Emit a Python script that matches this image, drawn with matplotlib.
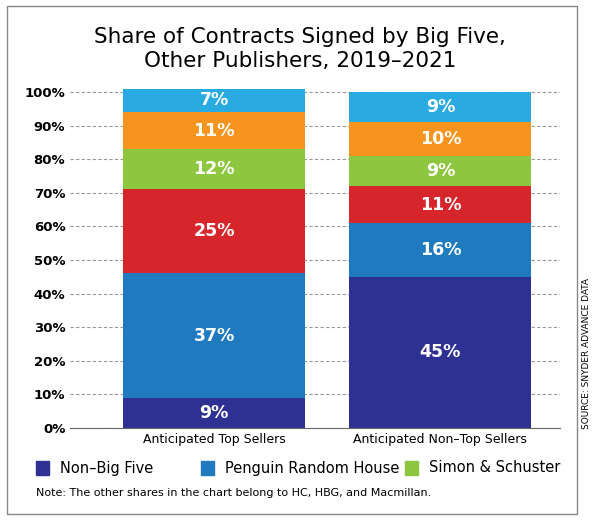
import matplotlib.pyplot as plt
from matplotlib.patches import Rectangle

categories = ['Anticipated Top Sellers', 'Anticipated Non–Top Sellers']
segments = ['Non–Big Five', 'Penguin Random House', 'Red', 'Simon & Schuster', 'Orange', 'Light']
values = {
    'Non–Big Five': [9, 45],
    'Penguin Random House': [37, 16],
    'Red': [25, 11],
    'Simon & Schuster': [12, 9],
    'Orange': [11, 10],
    'Light': [7, 9],
}
colors = ['#2e3192', '#1f7ac0', '#d7262b', '#8dc63f', '#f7941d', '#29abe2']
yticks = list(range(0, 101, 10))

fig = plt.figure(figsize=(6, 5.2), dpi=100)
fig.patches.append(Rectangle((0.012, 0.012), 0.95, 0.976, transform=fig.transFigure,
                             fill=False, edgecolor='#888888', linewidth=1))
ax = fig.add_axes([0.117, 0.177, 0.817, 341 / 520])

x = [0, 1]
bottom = [0, 0]
for seg, c in zip(segments, colors):
    vals = values[seg]
    ax.bar(x, vals, width=0.805, bottom=bottom, color=c, zorder=2)
    for xi, v, b in zip(x, vals, bottom):
        ax.text(xi, b + v / 2, f'{v}%', ha='center', va='center', color='white',
                fontsize=12.5, fontweight='bold', zorder=3)
    bottom = [b + v for b, v in zip(bottom, vals)]

ax.set_ylim(0, 101.5)
ax.set_xlim(-0.637, 1.531)
ax.set_yticks(yticks)
ax.set_yticklabels([f'{t}%' for t in yticks], fontsize=9.5, fontweight='bold')
ax.yaxis.grid(True, linestyle=(0, (3, 2)), color='#999999', linewidth=0.8, zorder=0)
ax.set_xticks(x)
ax.set_xticklabels(categories, fontsize=9)
ax.tick_params(length=0)
for s in ['top', 'right', 'left']:
    ax.spines[s].set_visible(False)
ax.spines['bottom'].set_color('#666666')

fig.text(0.5, 0.905, 'Share of Contracts Signed by Big Five,\nOther Publishers, 2019–2021',
         ha='center', va='center', fontsize=15.5, linespacing=1.25)

legend_items = [('Non–Big Five', colors[0], 0.06), ('Penguin Random House', colors[1], 0.335),
                ('Simon & Schuster', colors[3], 0.675)]
for label, c, xpos in legend_items:
    fig.patches.append(Rectangle((xpos, 0.087 + 0.0), 0.022, 0.026,
                                 transform=fig.transFigure, color=c))
    fig.text(xpos + 0.04, 0.1, label, va='center', fontsize=10.5)

fig.text(0.06, 0.052, 'Note: The other shares in the chart belong to HC, HBG, and Macmillan.',
         va='center', fontsize=8)
fig.text(0.977, 0.32, 'SOURCE: SNYDER ADVANCE DATA', rotation=90, ha='center', va='center',
         fontsize=6.5)

fig.savefig('out.png', dpi=100)
